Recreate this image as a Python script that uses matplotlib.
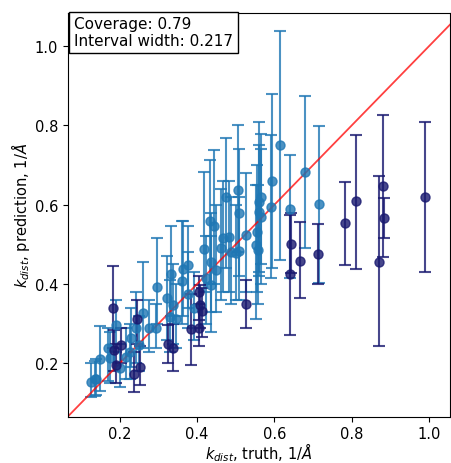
import matplotlib
matplotlib.use("Agg")
import matplotlib.pyplot as plt
import numpy as np

# covered intervals (truth, prediction, lower, upper)
cov_truth = [0.125, 0.136, 0.140, 0.149, 0.170, 0.174, 0.191, 0.200, 0.217, 0.226,
             0.230, 0.243, 0.260, 0.251, 0.275, 0.294, 0.297, 0.323, 0.333, 0.337,
             0.329, 0.346, 0.361, 0.363, 0.376, 0.376, 0.391, 0.417, 0.423, 0.434,
             0.444, 0.436, 0.436, 0.449, 0.462, 0.466, 0.474, 0.483, 0.487, 0.507,
             0.509, 0.509, 0.500, 0.526, 0.552, 0.556, 0.560, 0.565, 0.560, 0.565,
             0.558, 0.590, 0.593, 0.613, 0.640, 0.680, 0.714]
cov_pred = [0.154, 0.160, 0.161, 0.210, 0.238, 0.213, 0.298, 0.189, 0.217, 0.229,
            0.263, 0.288, 0.326, 0.246, 0.288, 0.288, 0.393, 0.364, 0.425, 0.347,
            0.318, 0.311, 0.407, 0.439, 0.448, 0.376, 0.340, 0.488, 0.414, 0.558,
            0.546, 0.456, 0.397, 0.435, 0.490, 0.515, 0.618, 0.519, 0.480, 0.636,
            0.579, 0.483, 0.477, 0.523, 0.498, 0.532, 0.607, 0.620, 0.582, 0.570,
            0.485, 0.595, 0.660, 0.750, 0.590, 0.681, 0.601]
cov_lo = [0.115, 0.118, 0.120, 0.130, 0.155, 0.150, 0.230, 0.140, 0.160, 0.160,
          0.190, 0.200, 0.240, 0.180, 0.230, 0.240, 0.300, 0.260, 0.320, 0.250,
          0.230, 0.240, 0.300, 0.320, 0.340, 0.290, 0.260, 0.380, 0.300, 0.400,
          0.400, 0.330, 0.280, 0.330, 0.360, 0.380, 0.440, 0.380, 0.350, 0.480,
          0.420, 0.360, 0.360, 0.380, 0.313, 0.380, 0.430, 0.450, 0.420, 0.400,
          0.350, 0.414, 0.441, 0.460, 0.414, 0.490, 0.403]
cov_hi = [0.200, 0.205, 0.210, 0.295, 0.290, 0.280, 0.360, 0.250, 0.290, 0.300,
          0.340, 0.380, 0.455, 0.320, 0.360, 0.350, 0.515, 0.470, 0.545, 0.450,
          0.410, 0.400, 0.560, 0.560, 0.545, 0.480, 0.430, 0.681, 0.520, 0.712,
          0.737, 0.580, 0.520, 0.600, 0.640, 0.660, 0.768, 0.660, 0.620, 0.800,
          0.740, 0.620, 0.600, 0.680, 0.650, 0.700, 0.809, 0.777, 0.750, 0.740,
          0.650, 0.775, 0.878, 1.038, 0.725, 0.874, 0.799]

# missed intervals
miss_truth = [0.183, 0.185, 0.191, 0.204, 0.245, 0.236, 0.253, 0.324, 0.338, 0.384,
              0.406, 0.407, 0.414, 0.406, 0.526, 0.642, 0.641, 0.666, 0.712, 0.783,
              0.811, 0.880, 0.884, 0.871, 0.988]
miss_pred = [0.340, 0.234, 0.196, 0.246, 0.311, 0.174, 0.191, 0.249, 0.238, 0.286,
             0.381, 0.347, 0.332, 0.289, 0.349, 0.502, 0.426, 0.459, 0.475, 0.553,
             0.608, 0.646, 0.566, 0.456, 0.620]
miss_lo = [0.240, 0.180, 0.150, 0.200, 0.250, 0.129, 0.145, 0.200, 0.180, 0.197,
           0.310, 0.290, 0.267, 0.245, 0.289, 0.428, 0.271, 0.366, 0.401, 0.448,
           0.439, 0.467, 0.516, 0.243, 0.430]
miss_hi = [0.446, 0.284, 0.250, 0.290, 0.359, 0.230, 0.245, 0.296, 0.300, 0.376,
           0.420, 0.397, 0.390, 0.350, 0.409, 0.580, 0.573, 0.557, 0.550, 0.658,
           0.776, 0.825, 0.616, 0.671, 0.809]

coverage = 0.79
interval_width = 0.217

plt.rcParams["font.size"] = 10.5
fig = plt.figure(figsize=(4.52, 4.64), dpi=100)
ax = fig.add_axes([0.150, 0.100, 0.846, 0.870])


def draw(ax, x, y, lo, hi, color):
    x, y, lo, hi = map(np.asarray, (x, y, lo, hi))
    ax.errorbar(x, y, yerr=[y - lo, hi - y], fmt="o", color=color, alpha=0.8,
                markersize=6.5, capsize=4, elinewidth=1.5, capthick=1.5)


draw(ax, cov_truth, cov_pred, cov_lo, cov_hi, "tab:blue")
draw(ax, miss_truth, miss_pred, miss_lo, miss_hi, "midnightblue")
ax.axline((0, 0), slope=1, color="red", alpha=0.75, lw=1.3)

ax.set_xlim(0.066, 1.054)
ax.set_ylim(0.066, 1.083)
ax.set_xlabel(r"$k_{dist}$, truth, $1/\AA$", labelpad=-1)
ax.set_ylabel(r"$k_{dist}$, prediction, $1/\AA$", labelpad=2)
ax.text(0.016, 0.992, f"Coverage: {coverage}\nInterval width: {interval_width}",
        transform=ax.transAxes, va="top", ha="left", fontsize=11, linespacing=1.15,
        bbox=dict(boxstyle="square,pad=0.3", facecolor="white", edgecolor="black"))

fig.savefig("out.png", dpi=100)
